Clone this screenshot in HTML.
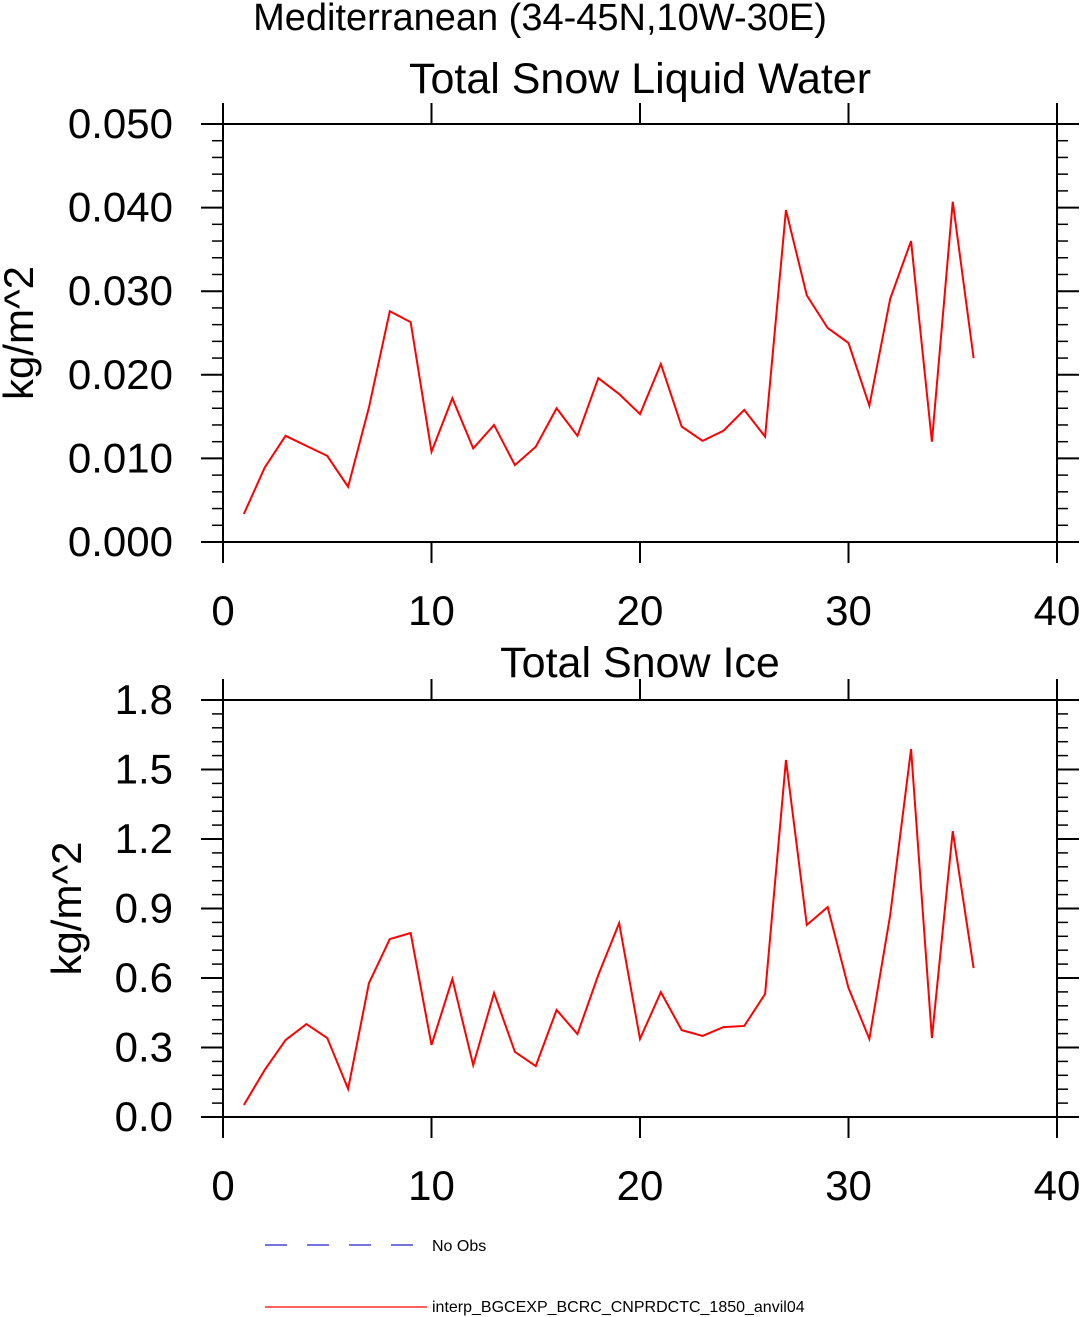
<!DOCTYPE html>
<html><head><meta charset="utf-8"><style>
html,body{margin:0;padding:0;background:#fff;}
svg{display:block;font-family:"Liberation Sans",sans-serif;}
</style></head><body>
<svg id="chart" width="1080" height="1317" viewBox="0 0 1080 1317">
<text x="540" y="30" font-size="38" text-anchor="middle">Mediterranean (34-45N,10W-30E)</text>
<line x1="265" y1="1245" x2="413" y2="1245" stroke="#2222cc" stroke-width="1.2" stroke-dasharray="22,20"/>
<text x="432" y="1251" font-size="16">No Obs</text>
<line x1="265" y1="1307" x2="427" y2="1307" stroke="#ff0000" stroke-width="1.2"/>
<text x="432" y="1312" font-size="16">interp_BGCEXP_BCRC_CNPRDCTC_1850_anvil04</text>
</svg>
<script>
const xValues = [1,2,3,4,5,6,7,8,9,10,11,12,13,14,15,16,17,18,19,20,21,22,23,24,25,26,27,28,29,30,31,32,33,34,35,36];
const liquidValues = [0.00335,0.0089,0.0127,0.0115,0.0103,0.0066,0.0161,0.0276,0.0263,0.0108,0.0172,0.0112,0.0140,0.0092,0.0114,0.0160,0.0127,0.0196,0.0177,0.0153,0.0213,0.0138,0.0121,0.0133,0.0158,0.0126,0.0397,0.0295,0.0256,0.0238,0.0163,0.0291,0.0360,0.0120,0.0407,0.0220];
const iceValues = [0.052,0.203,0.332,0.401,0.341,0.121,0.578,0.768,0.794,0.311,0.596,0.224,0.535,0.281,0.220,0.462,0.358,0.613,0.837,0.337,0.539,0.375,0.350,0.388,0.393,0.531,1.541,0.829,0.906,0.557,0.337,0.872,1.588,0.341,1.234,0.643];
const xTicks = [0,10,20,30,40];
const liquidTicks = ["0.000","0.010","0.020","0.030","0.040","0.050"];
const iceTicks = ["0.0","0.3","0.6","0.9","1.2","1.5","1.8"];

const svg = document.getElementById('chart');
const NS = 'http://www.w3.org/2000/svg';
function mk(tag, attrs, parent){const e=document.createElementNS(NS,tag);for(const k in attrs)e.setAttribute(k,attrs[k]);(parent||svg).appendChild(e);return e;}

function panel(cfg){
  const L=223,R=1057,T=cfg.top,B=cfg.bottom;
  const g=mk('g',{});
  
  
  const xs=v=>L+(v-0)/40*(R-L);
  const ymin=parseFloat(cfg.ticks[0]),ymax=parseFloat(cfg.ticks[cfg.ticks.length-1]);
  const ys=v=>B-(v-ymin)/(ymax-ymin)*(B-T);
  const t=mk('text',{x:640,y:cfg.titleY,'font-size':43,'text-anchor':'middle'},g);
  t.textContent=cfg.title;
  
  
  const box=mk('rect',{x:L,y:T,width:R-L,height:B-T,fill:'none',stroke:'#000','stroke-width':2},g);
  
  
  const step=(ymax-ymin)/(cfg.ticks.length-1);
  cfg.ticks.forEach((lab,i)=>{
    const v=ymin+i*step, y=ys(v);
    mk('line',{x1:L-22,y1:y,x2:L,y2:y,stroke:'#000','stroke-width':2},g);
    mk('line',{x1:R,y1:y,x2:R+22,y2:y,stroke:'#000','stroke-width':2},g);
    const tx=mk('text',{x:173,y:y+14,'font-size':42,'text-anchor':'end'},g);
    tx.textContent=lab;
    
    
    if(i<cfg.ticks.length-1){
      for(let m=1;m<5;m++){const ym=ys(v+step*m/5);
        mk('line',{x1:L-11,y1:ym,x2:L,y2:ym,stroke:'#000','stroke-width':1.5},g);
        mk('line',{x1:R,y1:ym,x2:R+11,y2:ym,stroke:'#000','stroke-width':1.5},g);}
    }
  });
  xTicks.forEach(v=>{
    const x=xs(v);
    mk('line',{x1:x,y1:B,x2:x,y2:B+21,stroke:'#000','stroke-width':2},g);
    mk('line',{x1:x,y1:T-21,x2:x,y2:T,stroke:'#000','stroke-width':2},g);
    const tx=mk('text',{x:x,y:B+83,'font-size':42,'text-anchor':'middle'},g);
    tx.textContent=v;
    
    
  });
  const yt=mk('text',{x:0,y:0,'font-size':42,'text-anchor':'middle',transform:`translate(${cfg.ytx},${(T+B)/2}) rotate(-90)`},g);
  yt.textContent='kg/m^2';
  
  
  const pts=xValues.map((x,i)=>xs(x)+','+ys(cfg.values[i])).join(' ');
  const pl=mk('polyline',{points:pts,fill:'none',stroke:'#ff0000','stroke-width':2},g);
  
  
}
panel({name:'liquid-water-panel',title:'Total Snow Liquid Water',top:124,bottom:542,ticks:liquidTicks,values:liquidValues,ytx:33,titleY:93});
panel({name:'snow-ice-panel',title:'Total Snow Ice',top:700,bottom:1117,ticks:iceTicks,values:iceValues,ytx:81,titleY:677});
</script>
</body></html>
